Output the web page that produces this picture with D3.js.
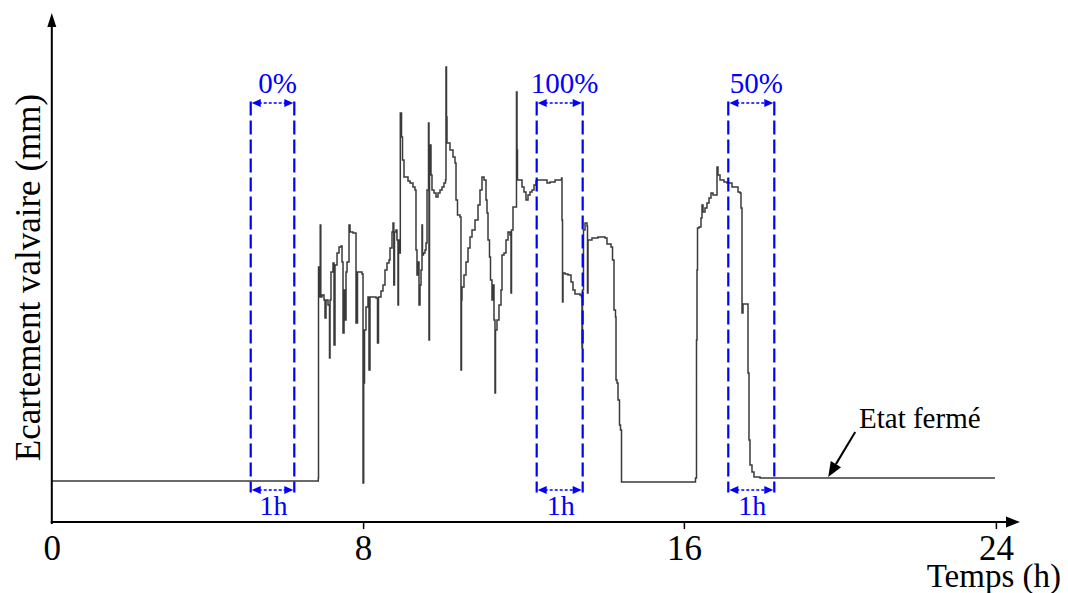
<!DOCTYPE html>
<html>
<head>
<meta charset="utf-8">
<script src="https://cdn.jsdelivr.net/npm/d3@7"></script>
<style>
  html, body { margin: 0; padding: 0; background: #fff; }
  svg { display: block; }
  text { font-family: "Liberation Serif", "Times New Roman", serif; }
</style>
</head>
<body>
<svg id="chart" width="1068" height="593"></svg>
<script>
// ---- Data ----
const timeH = [
  0, 6.79, 6.849, 6.854, 6.880, 6.898, 6.913, 6.944, 6.996, 7.021,
  7.047, 7.098, 7.137, 7.150, 7.175, 7.227, 7.253, 7.278, 7.330, 7.381,
  7.432, 7.458, 7.484, 7.510, 7.535, 7.561, 7.587, 7.638, 7.664, 7.741,
  7.792, 7.818, 7.856, 7.946, 7.972, 7.998, 8.015, 8.035, 8.072, 8.122,
  8.147, 8.172, 8.272, 8.322, 8.359, 8.384, 8.446, 8.496, 8.546, 8.596,
  8.646, 8.671, 8.721, 8.746, 8.766, 8.783, 8.820, 8.845, 8.870, 8.883,
  8.908, 8.928, 8.945, 8.958, 8.983, 9.020, 9.070, 9.120, 9.170, 9.244,
  9.294, 9.319, 9.344, 9.369, 9.394, 9.419, 9.444, 9.469, 9.481, 9.506,
  9.544, 9.569, 9.594, 9.618, 9.631, 9.643, 9.656, 9.693, 9.718, 9.768,
  9.818, 9.868, 9.918, 9.968, 10.017, 10.055, 10.067, 10.080, 10.092, 10.167,
  10.242, 10.292, 10.317, 10.354, 10.416, 10.441, 10.454, 10.466, 10.516, 10.566,
  10.616, 10.666, 10.716, 10.791, 10.865, 10.915, 10.965, 11.015, 11.065, 11.090,
  11.115, 11.152, 11.177, 11.214, 11.239, 11.264, 11.289, 11.302, 11.339, 11.389,
  11.439, 11.464, 11.514, 11.564, 11.614, 11.663, 11.688, 11.701, 11.738, 11.788,
  11.825, 11.838, 11.850, 11.913, 11.963, 12.012, 12.062, 12.112, 12.162, 12.212,
  12.262, 12.312, 12.337, 12.536, 12.586, 12.661, 12.786, 12.948, 12.960, 12.973,
  12.985, 13.035, 13.110, 13.185, 13.234, 13.284, 13.409, 13.446, 13.459, 13.471,
  13.496, 13.534, 13.584, 13.596, 13.609, 13.708, 13.858, 14.033, 14.082, 14.182,
  14.220, 14.257, 14.294, 14.307, 14.332, 14.357, 14.394, 14.419, 14.444, 14.506,
  16.285, 16.297, 16.323, 16.336, 16.349, 16.387, 16.438, 16.464, 16.490, 16.541,
  16.592, 16.644, 16.695, 16.746, 16.823, 16.849, 16.874, 16.926, 17.028, 17.105,
  17.233, 17.387, 17.438, 17.464, 17.490, 17.515, 17.618, 17.644, 17.669, 17.695,
  17.746, 17.797, 17.951, 23.977
];
const gapMm = [
  1.025, 1.025, 1.10, 6.375, 5.625, 7.425, 5.625, 5.675, 5.55, 5.10,
  5.55, 5.425, 4.10, 5.55, 6.25, 6.475, 4.425, 6.425, 6.725, 6.875,
  6.90, 6.50, 4.725, 5.80, 5.05, 6.25, 6.50, 7.425, 7.25, 7.225,
  7.225, 4.975, 6.25, 6.25, 6.20, 0.975, 3.475, 4.80, 5.375, 5.625,
  3.80, 5.625, 5.625, 5.60, 4.475, 5.625, 5.775, 5.925, 6.30, 6.475,
  6.55, 6.85, 7.25, 7.475, 5.925, 7.25, 7.30, 7.05, 5.425, 7.05,
  6.725, 10.225, 10.225, 9.625, 9.05, 8.625, 8.625, 8.525, 8.475, 8.375,
  8.30, 6.80, 6.175, 6.50, 5.425, 5.925, 6.30, 7.425, 6.675, 6.725,
  6.80, 6.975, 8.30, 8.30, 9.975, 4.55, 9.425, 8.675, 8.30, 8.225,
  8.125, 8.225, 8.30, 8.375, 8.475, 8.55, 11.375, 10.125, 9.475, 9.30,
  9.125, 8.975, 8.05, 7.675, 7.625, 3.80, 5.55, 5.875, 6.175, 6.50,
  6.85, 7.125, 7.30, 7.55, 7.925, 8.30, 8.625, 8.55, 8.05, 7.725,
  7.05, 6.625, 6.05, 5.55, 5.925, 5.05, 3.225, 4.80, 5.05, 5.425,
  5.80, 6.675, 6.725, 7.05, 7.25, 7.175, 5.725, 7.30, 7.875, 7.875,
  10.75, 9.30, 8.55, 8.55, 8.375, 8.25, 8.05, 8.175, 8.25, 8.30,
  8.425, 8.525, 8.55, 8.55, 8.475, 8.50, 8.55, 8.60, 7.55, 5.50,
  6.225, 6.20, 6.175, 6.00, 5.80, 5.70, 5.675, 5.625, 4.35, 5.80,
  7.30, 7.475, 7.40, 5.725, 7.05, 7.10, 7.125, 7.10, 6.95, 6.875,
  6.55, 5.30, 5.125, 3.55, 3.475, 3.05, 2.425, 2.30, 1.00, 1.00,
  1.00, 1.10, 4.55, 6.30, 7.35, 7.375, 7.60, 7.925, 7.75, 7.85,
  7.975, 8.10, 8.225, 8.175, 8.175, 8.875, 8.675, 8.55, 8.50, 8.475,
  8.375, 8.25, 8.225, 7.85, 5.225, 5.45, 5.45, 3.725, 2.05, 1.425,
  1.25, 1.125, 1.10, 1.10
];
const xTicks = [0, 8, 16, 24];
const xTickAnchors = [0, 8, 16, 24];
const windowStart = [5.112, 12.329, 17.138];
const windowEnd = [6.232, 13.476, 18.318];
const windowLabels = ["0%", "100%", "50%"];
const durationLabel = "1h";
const annotationText = "Etat fermé";
const annotationHour = 19.7;
const annotationGap = 1.10;
const xTitle = "Temps (h)";
const yTitle = "Ecartement valvaire (mm)";

// ---- Scales ----
const x = d3.scaleLinear().domain(xTickAnchors).range([51.8, 363.1, 683.9, 995.9]);
const y = d3.scaleLinear().domain([0, 12]).range([522, 42]);

const svg = d3.select("#chart");
const BLUE = "#0000ff";

// ---- Trace ----
const pts = timeH.map((t, i) => [t, gapMm[i]]);
const line = d3.line().x(d => x(d[0])).y(d => y(d[1])).curve(d3.curveStepAfter);
svg.append("path")
  .attr("d", line(pts))
  .attr("fill", "none")
  .attr("stroke", "#3a3a3a")
  .attr("stroke-width", 1.5)
  .attr("stroke-linejoin", "miter");

// ---- Axes ----
const x0 = x(0), y0 = y(0);
// y axis line + arrow
svg.append("line").attr("x1", x0).attr("x2", x0).attr("y1", y0 + 2).attr("y2", 24)
  .attr("stroke", "#000").attr("stroke-width", 2);
svg.append("path")
  .attr("d", `M${x0},13 L${x0 - 4.5},27 L${x0 + 4.5},27 Z`).attr("fill", "#000");
// x axis line + arrow
svg.append("line").attr("x1", x0 - 1).attr("x2", 1008).attr("y1", y0).attr("y2", y0)
  .attr("stroke", "#000").attr("stroke-width", 2);
svg.append("path")
  .attr("d", `M1020,${y0} L1006,${y0 - 5.5} L1006,${y0 + 5.5} Z`).attr("fill", "#000");

const xAxis = d3.axisBottom(x).tickValues(xTicks).tickFormat(d3.format("d")).tickSize(7).tickPadding(0);
const gx = svg.append("g").attr("transform", `translate(0,${y0})`).call(xAxis);
gx.select(".domain").remove();
gx.selectAll(".tick line").attr("stroke", "#000").attr("stroke-width", 1.5)
  .attr("display", d => d === 0 ? "none" : null);
gx.selectAll(".tick text")
  .attr("y", 38).attr("dy", 0)
  .attr("font-size", 35).attr("fill", "#000")
  .attr("font-family", "'Liberation Serif', 'Times New Roman', serif");

// axis titles
svg.append("text").attr("x", 1061).attr("y", 587).attr("text-anchor", "end")
  .attr("font-size", 33).attr("fill", "#000").text(xTitle);
svg.append("text").attr("transform", "translate(40,277.5) rotate(-90)")
  .attr("text-anchor", "middle").attr("font-size", 35).attr("fill", "#000").text(yTitle);

// ---- Windows ----
function dblArrow(g, xa, xb, yy) {
  g.append("line").attr("x1", xa + 8).attr("x2", xb - 8).attr("y1", yy).attr("y2", yy)
    .attr("stroke", BLUE).attr("stroke-width", 1.6).attr("stroke-dasharray", "3,2");
  g.append("path").attr("d", `M${xa + 1},${yy} L${xa + 10},${yy - 4} L${xa + 10},${yy + 4} Z`).attr("fill", BLUE);
  g.append("path").attr("d", `M${xb - 1},${yy} L${xb - 10},${yy - 4} L${xb - 10},${yy + 4} Z`).attr("fill", BLUE);
}
windowStart.forEach((s, i) => {
  const g = svg.append("g");
  const xa = x(s), xb = x(windowEnd[i]);
  [xa, xb].forEach(xx => {
    g.append("line").attr("x1", xx).attr("x2", xx).attr("y1", 101.5).attr("y2", 492.5)
      .attr("stroke", BLUE).attr("stroke-width", 2.2).attr("stroke-dasharray", "14,5");
  });
  dblArrow(g, xa, xb, 103);
  dblArrow(g, xa, xb, 490);
  g.append("text").attr("x", (xa + xb) / 2 + 5).attr("y", 93).attr("text-anchor", "middle")
    .attr("font-size", 29).attr("fill", BLUE).text(windowLabels[i]);
  g.append("text").attr("x", (xa + xb) / 2 + 1).attr("y", 515).attr("text-anchor", "middle")
    .attr("font-size", 28).attr("fill", BLUE).text(durationLabel);
});

// ---- Annotation ----
const tipX = x(annotationHour), tipY = y(annotationGap) - 1;
const startX = tipX + 27, startY = tipY - 45;
const ang = Math.atan2(tipY - startY, tipX - startX);
const hl = 15, hw = 6;
const bx = tipX - hl * Math.cos(ang), by = tipY - hl * Math.sin(ang);
svg.append("line").attr("x1", startX).attr("y1", startY).attr("x2", bx).attr("y2", by)
  .attr("stroke", "#000").attr("stroke-width", 2);
svg.append("path").attr("d",
  `M${tipX},${tipY} L${bx + hw * Math.sin(ang)},${by - hw * Math.cos(ang)} L${bx - hw * Math.sin(ang)},${by + hw * Math.cos(ang)} Z`)
  .attr("fill", "#000");
svg.append("text").attr("x", 859).attr("y", 428).attr("font-size", 29).attr("fill", "#000").text(annotationText);
</script>
</body>
</html>
